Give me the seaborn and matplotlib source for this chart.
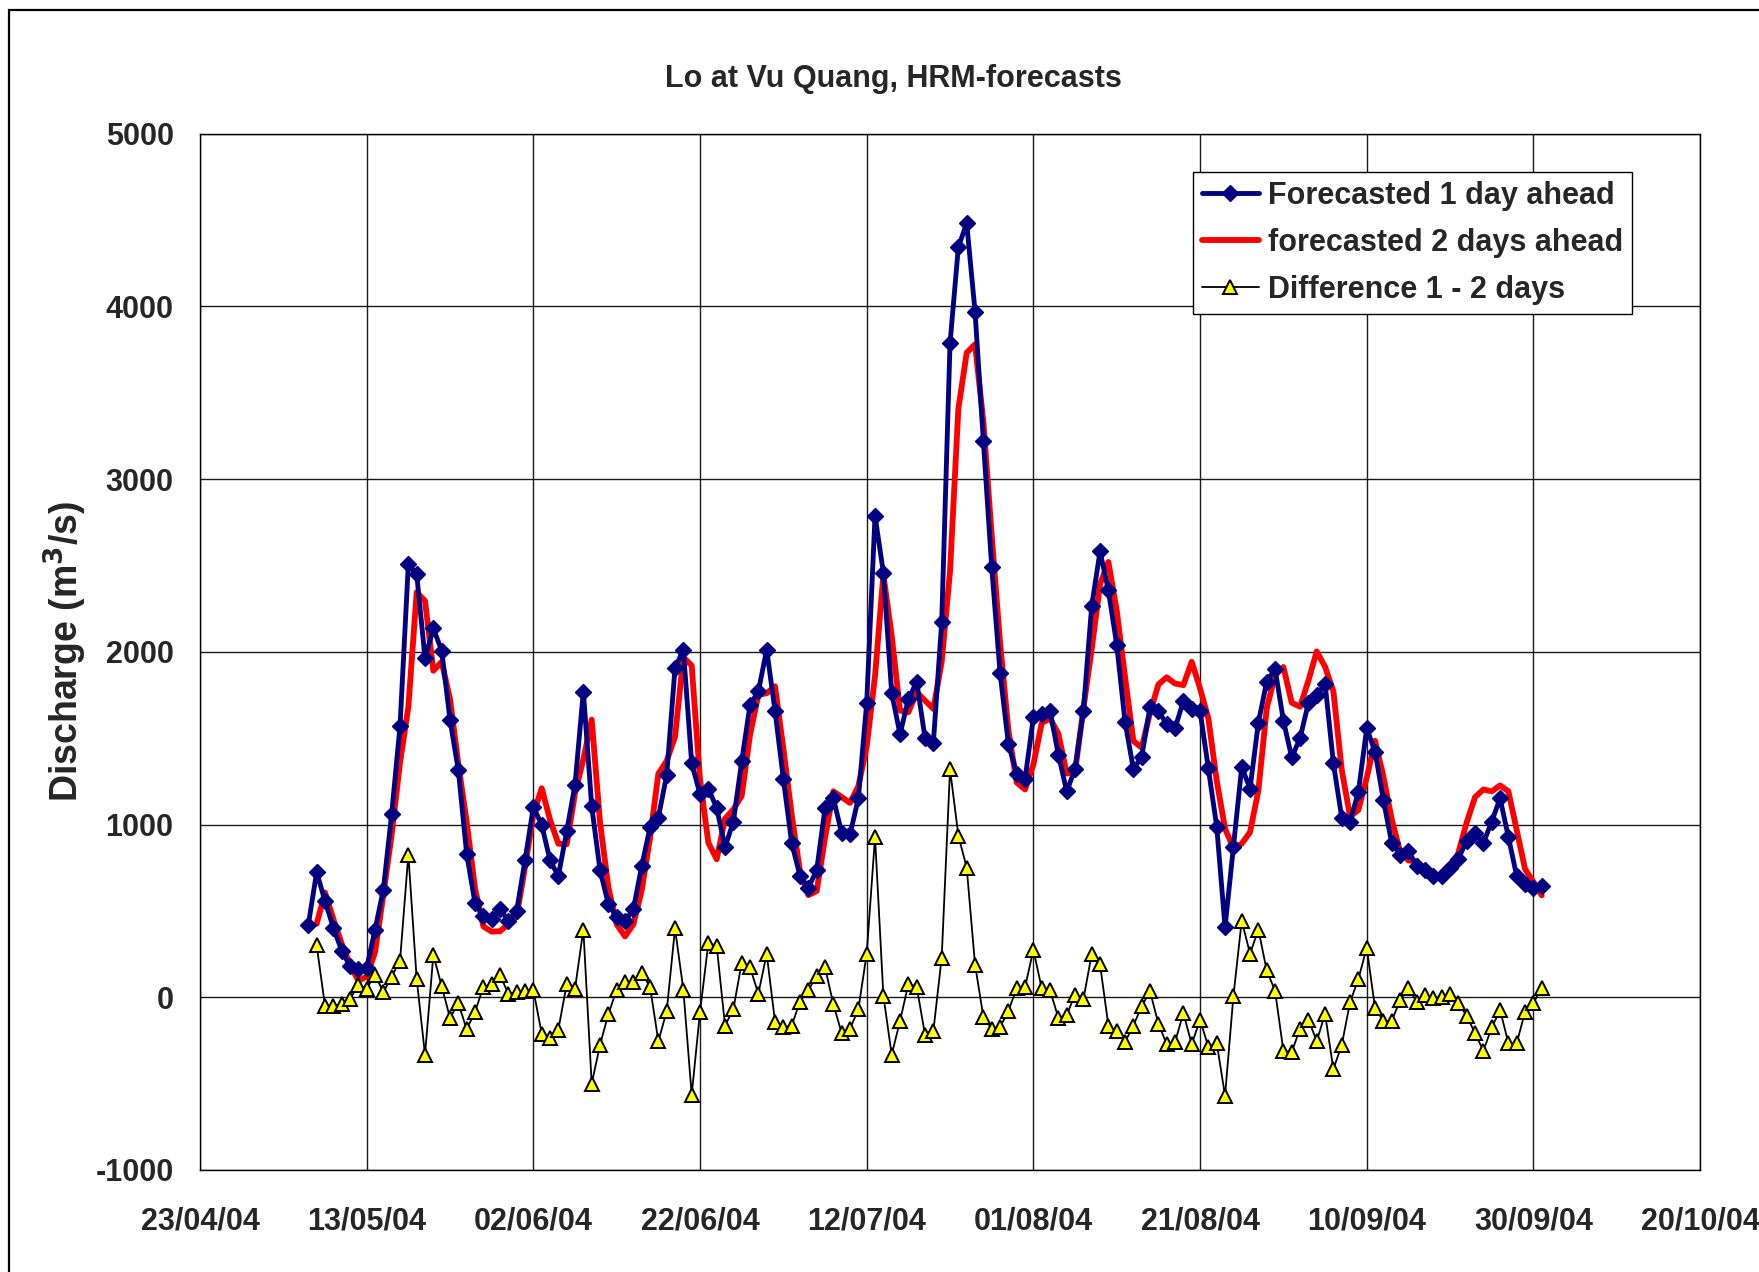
import matplotlib
matplotlib.use('Agg')
import matplotlib.pyplot as plt
from matplotlib.patches import Rectangle
import matplotlib.dates as mdates
import seaborn as sns
import pandas as pd

# Forecasted 1 day ahead, daily 06/05/04 - 01/10/04 (m3/s)
forecast_1day = [
    420, 725, 556, 403, 270, 180, 165, 170, 390, 623, 1062, 1568, 2506, 2450,
    1962, 2135, 2007, 1606, 1314, 830, 545, 470, 455, 510, 443, 500,
    792, 1100, 1000, 792, 702, 960, 1230, 1770, 1107, 735, 540, 465, 440, 510,
    758, 983, 1040, 1287, 1906, 2012, 1355, 1175, 1208, 1096, 870, 1017, 1366,
    1692, 1771, 2012,
    1658, 1264, 893, 702, 634, 736, 1096, 1152, 950, 943, 1152, 1703, 2788,
    2457, 1760, 1523, 1726, 1827, 1500, 1474, 2172, 3787, 4343, 4481, 3969,
    3220, 2491, 1880, 1467, 1295, 1261,
    1622, 1639, 1656, 1405, 1192, 1320, 1658, 2266, 2581, 2356, 2041, 1595,
    1320, 1393, 1681, 1658, 1580, 1557, 1715, 1670, 1658, 1325, 988, 405, 870,
    1332, 1208, 1590, 1827, 1901, 1602,
    1388, 1500, 1703, 1748, 1816, 1355, 1040, 1017, 1190, 1557, 1422, 1141,
    893, 826, 848, 758, 736, 702, 702, 747, 803, 905, 950, 893, 1017, 1152,
    927, 702, 657, 634,
    646,
]

# forecasted 2 days ahead, daily 07/05/04 - 01/10/04 (m3/s)
forecast_2day = [
    425, 606, 453, 310, 190, 95, 120, 260, 593, 942, 1358, 1680, 2344, 2295,
    1890, 1942, 1726, 1349, 1015, 630, 410, 380, 382, 423, 469,
    754, 1057, 1210, 1027, 889, 885, 1180, 1378, 1607, 1012, 637, 422, 352,
    422, 618, 922, 1294, 1368, 1508, 1969, 1920, 1260, 895, 799, 1034, 1087,
    1166, 1519, 1751, 1760,
    1800, 1439, 1057, 727, 591, 615, 923, 1192, 1159, 1125, 1222, 1451, 1861,
    2447, 2093, 1660, 1650, 1766, 1718, 1669, 1942, 2467, 3408, 3731, 3780,
    3333, 2673, 2055, 1546, 1243, 1203,
    1347, 1587, 1615, 1525, 1295, 1305, 1671, 2016, 2391, 2520, 2239, 1854,
    1484, 1445, 1647, 1811, 1852, 1816, 1807, 1942, 1788, 1613, 1253, 975,
    865, 889, 956, 1198, 1672, 1863, 1912,
    1705, 1682, 1833, 2002, 1913, 1771, 1317, 1046, 1084, 1271, 1485, 1278,
    1030, 844, 792, 787, 725, 709, 698, 731, 837, 1013, 1159, 1203, 1192,
    1226, 1192, 967, 742, 668,
    590,
]

# Difference 1 - 2 days, daily 07/05/04 - 01/10/04 (m3/s)
difference = [
    300, -50, -50, -40, -10, 70, 50, 130, 30, 120, 210, 826, 106, -333, 245,
    65, -120, -35, -185, -85, 60, 75, 128, 20, 31,
    38, 43, -210, -235, -187, 75, 50, 392, -500, -277, -97, 43, 88, 88, 140,
    61, -254, -81, 398, 43, -565, -85, 313, 297, -164, -70, 200, 173, 20, 252,
    -142, -175, -164, -25, 43, 121, 173, -40, -209, -182, -70, 252, 927, 10,
    -333, -137, 76, 61, -218, -195, 230, 1320, 935, 750, 189, -113, -182,
    -175, -79, 52, 58,
    275, 52, 41, -120, -103, 15, -13, 250, 190, -164, -198, -259, -164, -52,
    34, -153, -272, -259, -92, -272, -130, -288, -265, -570, 5, 443, 252, 392,
    155, 38, -310,
    -317, -182, -130, -254, -97, -416, -277, -29, 106, 286, -63, -137, -137,
    -18, 56, -29, 11, -7, 4, 16, -34, -108, -209, -310, -175, -74, -265, -265,
    -85, -34,
    56,
]

dates_1day = pd.date_range('2004-05-06', '2004-10-01', freq='D')
dates_2day = pd.date_range('2004-05-07', '2004-10-01', freq='D')
tick_dates = pd.date_range('2004-04-23', '2004-10-20', freq='20D')
y_ticks = [-1000, 0, 1000, 2000, 3000, 4000, 5000]

sns.set_style('white')
plt.rcParams['font.family'] = ['Liberation Sans', 'DejaVu Sans']
plt.rcParams['font.weight'] = 'bold'
plt.rcParams['axes.unicode_minus'] = False

fig = plt.figure(figsize=(17.59, 12.72), dpi=100)
ax = fig.add_axes([0.1137, 0.0802, 0.8528, 0.8148])

# red first so the blue diamonds sit on top
sns.lineplot(x=dates_2day, y=forecast_2day, ax=ax, color='#ff0000',
             linewidth=4.2, label='forecasted 2 days ahead', zorder=3)
sns.lineplot(x=dates_1day, y=forecast_1day, ax=ax, color='#000080',
             linewidth=3.5, marker='D', markersize=8.5, markeredgewidth=1,
             markeredgecolor='#000080', label='Forecasted 1 day ahead', zorder=4)
sns.lineplot(x=dates_2day, y=difference, ax=ax, color='black', linewidth=1.3,
             marker='^', markersize=9.5, markerfacecolor='#ffff00',
             markeredgecolor='black', markeredgewidth=1.4,
             label='Difference 1 - 2 days', zorder=5)

ax.set_xlim(tick_dates[0], tick_dates[-1])
ax.set_ylim(-1000, 5000)
ax.set_xticks(tick_dates)
ax.set_yticks(y_ticks)
ax.xaxis.set_major_formatter(mdates.DateFormatter('%d/%m/%y'))
ax.tick_params(axis='both', direction='out', length=8, width=1,
               color='black', labelsize=22)
ax.tick_params(axis='x', pad=18)
ax.tick_params(axis='y', pad=11)
for lbl in ax.get_xticklabels() + ax.get_yticklabels():
    lbl.set_fontweight('bold')

ax.grid(True, color='#1a1a1a', linewidth=1)
ax.set_axisbelow(True)
for spine in ax.spines.values():
    spine.set_visible(True)
    spine.set_color('black')
    spine.set_linewidth(1)
ax.set_xlabel('')
ax.set_ylabel('')

handles, labels = ax.get_legend_handles_labels()
order = [1, 0, 2]
leg = ax.legend([handles[i] for i in order], [labels[i] for i in order],
                loc='upper right', bbox_to_anchor=(0.9547, 0.9629),
                borderaxespad=0, fontsize=22, frameon=True, fancybox=False,
                edgecolor='black', framealpha=1, handlelength=1.85,
                handletextpad=0.3, labelspacing=0.55, borderpad=0.3)
leg.get_frame().set_linewidth(1)
for txt in leg.get_texts():
    txt.set_fontweight('bold')

fig.text(0.508, 0.938, 'Lo at Vu Quang, HRM-forecasts', ha='center',
         va='center', fontsize=22, fontweight='bold')
fig.text(0.037, 0.488, 'Discharge (m$^\\mathbf{3}$/s)', ha='center', va='center',
         rotation=90, fontsize=27, fontweight='bold')

# outer chart frame (only left and top edges fall inside the image)
fig.add_artist(Rectangle((0.0053, -0.5), 2, 0.9921 + 0.5, fill=False,
                         edgecolor='black', linewidth=1.6,
                         transform=fig.transFigure))

fig.savefig('out.png', dpi=100)
